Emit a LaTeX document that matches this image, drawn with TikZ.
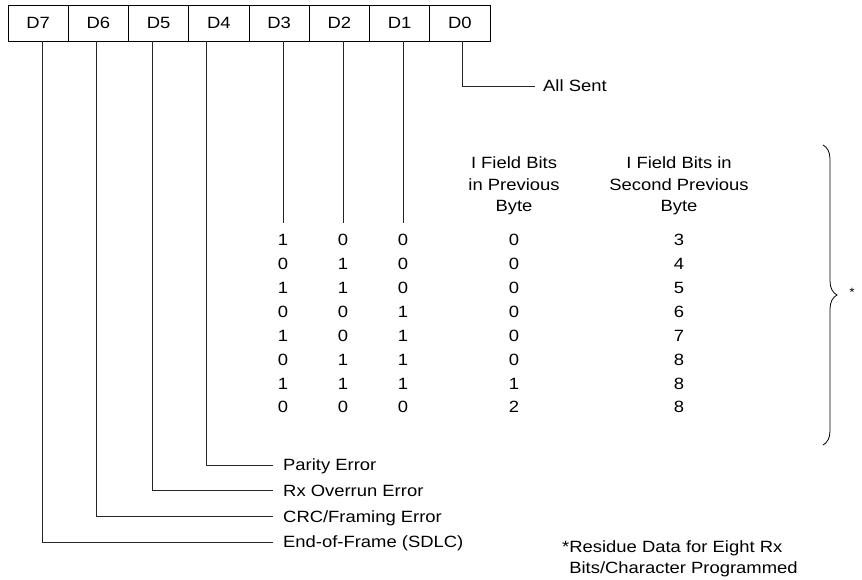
\documentclass[tikz,border=0pt]{standalone}
\usepackage{fontspec}
\setmainfont{Liberation Sans}[FakeStretch=1.13]
\usetikzlibrary{positioning,decorations.pathreplacing}
\tikzset{
  bitcell/.style={draw, line width=0.9pt, minimum width=60.25pt, minimum height=36pt, inner sep=0pt, outer sep=0pt, text height=11.7pt, text depth=0pt},
  lead/.style={draw=black!85, line width=0.9pt},
  lbl/.style={anchor=west, inner sep=0pt, text height=11.7pt, text depth=0pt},
  digit/.style={inner sep=0pt, text height=11.7pt, text depth=0pt},
  colhead/.style={anchor=base, align=center, inner sep=0pt}
}

\begin{document}
\begin{tikzpicture}[x=1pt, y=-1pt, font=\fontsize{16.3}{21.5}\selectfont, node distance=0pt]
  \useasboundingbox (0,0) rectangle (862,580);
  % register bits
  \node[bitcell] (d7) at (38.1,23) {D7};
  \node[bitcell, right=of d7] (d6) {D6};
  \node[bitcell, right=of d6] (d5) {D5};
  \node[bitcell, right=of d5] (d4) {D4};
  \node[bitcell, right=of d4] (d3) {D3};
  \node[bitcell, right=of d3] (d2) {D2};
  \node[bitcell, right=of d2] (d1) {D1};
  \node[bitcell, right=of d1] (d0) {D0};

  % status labels
  \node[lbl] (sent) at (543,86) {All Sent};
  \node[lbl] (pe) at (283,465) {Parity Error};
  \node[lbl] (ovr) at (283,490.7) {Rx Overrun Error};
  \node[lbl] (crc) at (283,516.4) {CRC/Framing Error};
  \node[lbl] (eof) at (283,542) {End-of-Frame (SDLC)};
  \draw[lead] ([xshift=3pt]d0.south) |- ([xshift=-8pt]sent.west);
  \draw[lead] ([xshift=-12.9pt]d4.south) |- ([xshift=-10pt]pe.west);
  \draw[lead] ([xshift=-6.6pt]d5.south) |- ([xshift=-10pt]ovr.west);
  \draw[lead] ([xshift=-2.4pt]d6.south) |- ([xshift=-10pt]crc.west);
  \draw[lead] ([xshift=3.9pt]d7.south) |- ([xshift=-10pt]eof.west);

  % residue table
  \node[colhead] (prev) at (514,211.85) {I Field Bits\\in Previous\\Byte};
  \node[colhead] (sprev) at (679,211.85) {I Field Bits in\\Second Previous\\Byte};
  \foreach \c/\b/\a/\p/\s [count=\i] in {1/0/0/0/3, 0/1/0/0/4, 1/1/0/0/5, 0/0/1/0/6,
                                          1/0/1/0/7, 0/1/1/0/8, 1/1/1/1/8, 0/0/0/2/8} {
    \node[digit] (bitc\i) at (283,{216.14+23.86*\i}) {\c};
    \node[digit] (bitb\i) at (343,{216.14+23.86*\i}) {\b};
    \node[digit] (bita\i) at (403,{216.14+23.86*\i}) {\a};
    \node[digit] (prev\i) at (514,{216.14+23.86*\i}) {\p};
    \node[digit] (sprev\i) at (679,{216.14+23.86*\i}) {\s};
  }
  \draw[lead] (bitc1 |- d3.south) -- ([yshift=11pt]bitc1.north);
  \draw[lead] (bitb1 |- d2.south) -- ([yshift=11pt]bitb1.north);
  \draw[lead] (bita1 |- d1.south) -- ([yshift=11pt]bita1.north);

  % brace and note
  \coordinate (bt) at (823,145);
  \coordinate (bb) at (823,445);
  \draw[line width=0.8pt, decorate, decoration={brace, amplitude=14pt}] (bt) -- (bb);
  \node[inner sep=0pt, font=\fontsize{12}{12}\selectfont] (star) at (852,292) {*};
  \node[anchor=base west, align=left, inner sep=0pt] (note) at (562,573.85)
    {*Residue Data for Eight Rx\\\phantom{*}Bits/Character Programmed};
\end{tikzpicture}
\end{document}
